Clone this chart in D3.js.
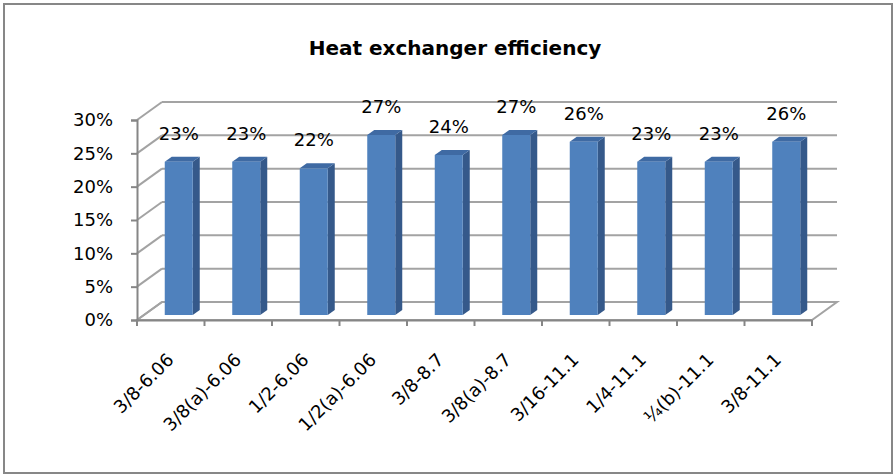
<!DOCTYPE html>
<html>
<head>
<meta charset="utf-8">
<script src="https://cdn.jsdelivr.net/npm/d3@7"></script>
<style>
  html, body { margin: 0; padding: 0; background: #fff; }
  svg { display: block; }
  text { font-family: "DejaVu Sans", sans-serif; fill: #000; }
</style>
</head>
<body>
<svg id="chart" width="896" height="475"></svg>
<script>
// Heat exchanger efficiency per configuration (tube size - flow)
const categories = ["3/8-6.06", "3/8(a)-6.06", "1/2-6.06", "1/2(a)-6.06", "3/8-8.7",
                    "3/8(a)-8.7", "3/16-11.1", "1/4-11.1", "\u00bc(b)-11.1", "3/8-11.1"];
const efficiency = [0.23, 0.23, 0.22, 0.27, 0.24, 0.27, 0.26, 0.23, 0.23, 0.26];
const yTicks = [0, 0.05, 0.10, 0.15, 0.20, 0.25, 0.30];
const title = "Heat exchanger efficiency";

const svg = d3.select("#chart");

// chart area border
svg.append("rect")
  .attr("x", 4).attr("y", 4).attr("width", 888).attr("height", 469)
  .attr("fill", "#fff").attr("stroke", "#878787").attr("stroke-width", 2);

svg.append("text")
  .attr("x", 455).attr("y", 55)
  .attr("text-anchor", "middle")
  .style("font-weight", "bold").style("font-size", "20px")
  .text(title);

// 3D projection: front plane, back wall offset
const depth = { dx: 25, dy: -18 };
const barDepth = { dx: 7, dy: -5 };

const x = d3.scaleBand().domain(categories).range([137, 812]).padding(0);
const y = d3.scaleLinear().domain([0, 0.30]).range([320, 120]);
// bars sit a little behind the front plane
const barShift = { dx: 8, dy: -5 };

const grid = svg.append("g").attr("fill", "none").attr("stroke", "#a3a3a3").attr("stroke-width", 2);

// back wall gridlines
grid.selectAll("line.back").data(yTicks.slice(1)).join("line")
  .attr("class", "back")
  .attr("x1", 137 + depth.dx).attr("x2", 812 + depth.dx)
  .attr("y1", d => y(d) + depth.dy).attr("y2", d => y(d) + depth.dy);

// side wall diagonals
grid.selectAll("line.side").data(yTicks).join("line")
  .attr("class", "side")
  .attr("x1", 137).attr("x2", 137 + depth.dx)
  .attr("y1", d => y(d)).attr("y2", d => y(d) + depth.dy);

// floor outline
const floorPts = [[137, y(0)], [812, y(0)], [812 + depth.dx, y(0) + depth.dy], [137 + depth.dx, y(0) + depth.dy]];
svg.append("path")
  .attr("d", d3.line()(floorPts) + "Z")
  .attr("fill", "none").attr("stroke", "#a3a3a3").attr("stroke-width", 2);

// y axis
const yAxis = svg.append("g").attr("transform", "translate(137,0)")
  .call(d3.axisLeft(y).tickValues(yTicks).tickFormat(d3.format(".0%")).tickSize(6).tickPadding(18));
yAxis.select(".domain").attr("stroke", "#868686").attr("stroke-width", 2);
yAxis.selectAll(".tick line").attr("stroke", "#868686").attr("stroke-width", 2);
yAxis.selectAll(".tick text").style("font-size", "18px").style("font-family", "DejaVu Sans");

// x axis along the front edge of the floor
const xAxis = svg.append("g").attr("transform", `translate(0,${y(0)})`)
  .call(d3.axisBottom(x).tickSize(0).tickFormat(""));
xAxis.select(".domain").attr("stroke", "#868686").attr("stroke-width", 2);
const boundaries = d3.range(categories.length + 1).map(i => x.range()[0] + i * x.step());
xAxis.selectAll("line.bound").data(boundaries).join("line")
  .attr("class", "bound")
  .attr("x1", d => d).attr("x2", d => d).attr("y1", 0).attr("y2", 6)
  .attr("stroke", "#868686").attr("stroke-width", 2);

// category labels, rotated
svg.append("g").selectAll("text").data(categories).join("text")
  .attr("text-anchor", "end")
  .attr("transform", d => `translate(${x(d) + x.bandwidth() / 2 + 4},${y(0) + 41}) rotate(-45)`)
  .style("font-size", "18px")
  .text(d => d);

// bars
const barW = 28;
const bars = svg.append("g").selectAll("g").data(categories.map((c, i) => ({ c, v: efficiency[i] }))).join("g");
const bx = d => x(d.c) + x.bandwidth() / 2 + barShift.dx - barW / 2;
const by = d => y(d.v) + barShift.dy;
const b0 = y(0) + barShift.dy;

bars.append("path") // side face
  .attr("fill", "#35598a")
  .attr("d", d => d3.line()([[bx(d) + barW, b0], [bx(d) + barW, by(d)],
    [bx(d) + barW + barDepth.dx, by(d) + barDepth.dy], [bx(d) + barW + barDepth.dx, b0 + barDepth.dy]]) + "Z");
bars.append("path") // top face
  .attr("fill", "#3f6aa3")
  .attr("d", d => d3.line()([[bx(d), by(d)], [bx(d) + barW, by(d)],
    [bx(d) + barW + barDepth.dx, by(d) + barDepth.dy], [bx(d) + barDepth.dx, by(d) + barDepth.dy]]) + "Z");
bars.append("rect") // front face
  .attr("fill", "#4f81bd")
  .attr("x", bx).attr("y", by).attr("width", barW).attr("height", d => b0 - by(d));

// value labels
bars.append("text")
  .attr("text-anchor", "middle")
  .attr("x", d => bx(d) + barW / 2)
  .attr("y", d => by(d) - 22)
  .style("font-size", "18px")
  .text(d => d3.format(".0%")(d.v));
</script>
</body>
</html>
